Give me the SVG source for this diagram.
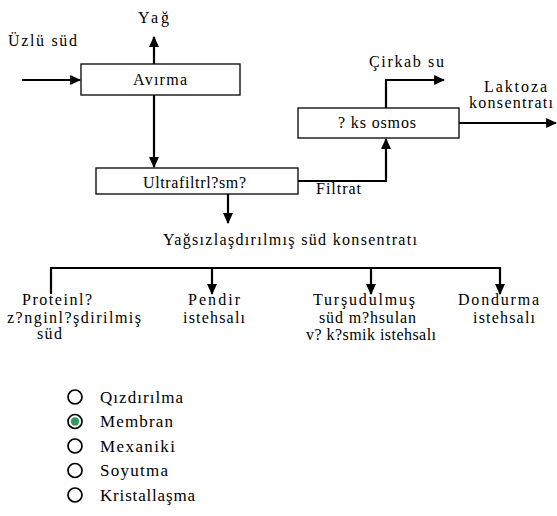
<svg xmlns="http://www.w3.org/2000/svg" width="557" height="516" viewBox="0 0 557 516" font-family="Liberation Serif, Tinos, Times New Roman, DejaVu Serif, serif">
<style>
.box{fill:#fff;stroke:#000;stroke-width:1.3}
.ln{fill:none;stroke:#000;stroke-width:2.2}
text{font-size:16px;fill:#000}
.o{font-size:17px}
.r{fill:#fff;stroke:#000;stroke-width:1.7}
</style>
<defs>
<marker id="ah" viewBox="0 0 10 10" refX="9" refY="5" markerWidth="5" markerHeight="4.5" orient="auto" markerUnits="strokeWidth" preserveAspectRatio="none">
<path d="M0,0 L10,5 L0,10 z" fill="#000"/>
</marker>
</defs>
<rect width="557" height="516" fill="#fff"/>
<g id="connectors">
<line class="ln" x1="22" y1="80" x2="80" y2="80" marker-end="url(#ah)"/>
<line class="ln" x1="154" y1="64" x2="154" y2="37" marker-end="url(#ah)"/>
<line class="ln" x1="154" y1="95" x2="154" y2="167" marker-end="url(#ah)"/>
<polyline class="ln" points="298,181 386,181 386,139" marker-end="url(#ah)"/>
<polyline class="ln" points="386,108 386,80 444,80" marker-end="url(#ah)"/>
<line class="ln" x1="459" y1="123" x2="556" y2="123" marker-end="url(#ah)"/>
<line class="ln" x1="228" y1="194" x2="228" y2="223" marker-end="url(#ah)"/>
<polyline class="ln" points="51,294 51,268 500,268 500,294" marker-end="url(#ah)"/>
<line class="ln" x1="212" y1="268" x2="212" y2="294" marker-end="url(#ah)"/>
<line class="ln" x1="371" y1="268" x2="371" y2="294" marker-end="url(#ah)"/>
</g>
<g id="uzlu-sud"><text x="8" y="46" textLength="69">Üzlü süd</text></g>
<g id="yag"><text x="138" y="23" textLength="31">Yağ</text></g>
<g id="avirma"><rect class="box" x="81" y="64" width="159" height="31"/><text x="133" y="85" textLength="54">Avırma</text></g>
<g id="ultrafiltr"><rect class="box" x="96" y="168" width="202" height="26"/><text x="143" y="188" textLength="103">Ultrafiltrl?sm?</text></g>
<g id="filtrat"><text x="316" y="194" textLength="45">Filtrat</text></g>
<g id="osmos"><rect class="box" x="298" y="108" width="161" height="30"/><text x="338" y="128" textLength="78">? ks osmos</text></g>
<g id="cirkab"><text x="369" y="67" textLength="75">Çirkab su</text></g>
<g id="laktoza"><text x="484" y="92" textLength="63">Laktoza</text><text x="469" y="108" textLength="84">konsentratı</text></g>
<g id="konsentrat"><text x="163" y="245" textLength="254">Yağsızlaşdırılmış süd konsentratı</text></g>
<g id="protein"><text x="22" y="305" textLength="70">Proteinl?</text><text x="7" y="323" textLength="134">z?nginl?şdirilmiş</text><text x="37" y="339" textLength="25">süd</text></g>
<g id="pendir"><text x="188" y="305" textLength="52">Pendir</text><text x="183" y="323" textLength="62">istehsalı</text></g>
<g id="tursu"><text x="313" y="305" textLength="102">Turşudulmuş</text><text x="319" y="323" textLength="97">süd m?hsulan</text><text x="306" y="340" textLength="130">v? k?smik istehsalı</text></g>
<g id="dondurma"><text x="458" y="305" textLength="81">Dondurma</text><text x="473" y="323" textLength="62">istehsalı</text></g>
<g id="options">
<circle class="r" cx="75" cy="397" r="7"/><text class="o" x="100" y="402.5" textLength="83">Qızdırılma</text>
<circle class="r" cx="75" cy="421.5" r="7"/><circle cx="75" cy="421.5" r="4.2" fill="#2e9b5f"/><text class="o" x="100" y="427" textLength="73">Membran</text>
<circle class="r" cx="75" cy="446" r="7"/><text class="o" x="100" y="451.5" textLength="75">Mexaniki</text>
<circle class="r" cx="75" cy="470.5" r="7"/><text class="o" x="100" y="476" textLength="68">Soyutma</text>
<circle class="r" cx="75" cy="495" r="7"/><text class="o" x="100" y="500.5" textLength="95">Kristallaşma</text>
</g>
</svg>
